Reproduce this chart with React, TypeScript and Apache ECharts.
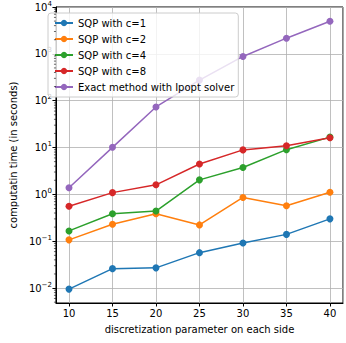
import React, { useEffect, useRef } from "react";
import * as echarts from "echarts";

const N_VALUES = [10, 15, 20, 25, 30, 35, 40];
const SQP_C1 = [0.0095, 0.026, 0.027, 0.057, 0.092, 0.14, 0.30];
const SQP_C2 = [0.107, 0.23, 0.385, 0.223, 0.86, 0.57, 1.11];
const SQP_C4 = [0.166, 0.385, 0.44, 2.04, 3.76, 9.0, 16.7];
const SQP_C8 = [0.556, 1.09, 1.6, 4.45, 8.9, 10.9, 16.2];
const IPOPT = [1.38, 10.1, 73.5, 275, 880, 2160, 4960];

const SERIES_NAMES = [
  "SQP with c=1",
  "SQP with c=2",
  "SQP with c=4",
  "SQP with c=8",
  "Exact method with Ipopt solver",
];
const COLORS = ["#1f77b4", "#ff7f0e", "#2ca02c", "#d62728", "#9467bd"];

const X_MIN = 8.5;
const X_MAX = 41.5;
const Y_MIN = 0.0048;
const Y_MAX = 10000;

const MINOR_TICKS: number[] = [];
for (let e = -3; e <= 3; e++) {
  for (let m = 2; m <= 9; m++) {
    const v = m * Math.pow(10, e);
    if (v > Y_MIN && v < Y_MAX) MINOR_TICKS.push(v);
  }
}

const FONT = "DejaVu Sans";

export default function App() {
  const ref = useRef<HTMLDivElement>(null);
  useEffect(() => {
    if (!ref.current) return;
    const chart = echarts.init(ref.current, undefined, { renderer: "svg" });
    const allData = [SQP_C1, SQP_C2, SQP_C4, SQP_C8, IPOPT];
    const lineSeries = allData.map((vals, i) => ({
      name: SERIES_NAMES[i],
      type: "line",
      data: N_VALUES.map((n, j) => [n, vals[j]]),
      symbol: "circle",
      symbolSize: 7,
      lineStyle: { width: 1.5, color: COLORS[i] },
      itemStyle: { color: COLORS[i] },
      z: 3,
    }));
    const option: any = {
      animation: false,
      textStyle: { fontFamily: FONT },
      grid: {
        left: 46,
        right: 3,
        top: 6,
        bottom: 40,
        show: true,
        borderColor: "#000",
        borderWidth: 1,
        backgroundColor: "transparent",
      },
      legend: {
        data: SERIES_NAMES,
        orient: "vertical",
        left: 48,
        top: 13,
        itemWidth: 18,
        itemHeight: 8,
        itemGap: 4,
        padding: [4, 4, 4, 6],
        backgroundColor: "rgba(255,255,255,0.8)",
        borderColor: "#cccccc",
        borderWidth: 1,
        borderRadius: 3,
        textStyle: { fontFamily: FONT, fontSize: 10, color: "#000", lineHeight: 12 },
      },
      xAxis: {
        type: "value",
        min: X_MIN,
        max: X_MAX,
        splitNumber: 7,
        name: "discretization parameter on each side",
        nameLocation: "middle",
        nameGap: 21,
        nameTextStyle: { fontFamily: FONT, fontSize: 10, color: "#000" },
        axisLine: { show: true, lineStyle: { color: "#000", width: 1 } },
        axisTick: { show: true, length: 3.5, lineStyle: { color: "#000" } },
        axisLabel: {
          fontFamily: FONT,
          fontSize: 10,
          color: "#000",
          margin: 5,
          showMinLabel: false,
          showMaxLabel: false,
          formatter: (v: number) => (Math.abs(v - Math.round(v)) < 1e-6 && v % 5 === 0 ? String(v) : ""),
        },
        splitLine: { show: true, lineStyle: { color: "#b0b0b0", width: 0.8 } },
      },
      yAxis: {
        type: "log",
        logBase: 10,
        min: Y_MIN,
        max: Y_MAX,
        name: "computatin time (in seconds)",
        nameLocation: "middle",
        nameGap: 27,
        nameTextStyle: { fontFamily: FONT, fontSize: 10, color: "#000" },
        axisLine: { show: true, lineStyle: { color: "#000", width: 1 } },
        axisTick: { show: true, length: 3.5, lineStyle: { color: "#000" } },
        axisLabel: {
          fontFamily: FONT,
          fontSize: 10,
          color: "#000",
          margin: 4,
          showMinLabel: false,
          formatter: (v: number) => {
            const lg = Math.log10(v);
            const e = Math.round(lg);
            if (Math.abs(lg - e) > 1e-6) return "";
            const es = e < 0 ? "\u2212" + Math.abs(e) : String(e);
            return "10{sup|" + es + "}";
          },
          rich: {
            sup: { fontSize: 7, fontFamily: FONT, color: "#000", padding: [0, 0, 7, 0] },
          },
        },
        splitLine: { show: true, lineStyle: { color: "#b0b0b0", width: 0.8 } },
      },
      series: [
        ...lineSeries,
        {
          type: "custom",
          silent: true,
          clip: false,
          z: 5,
          data: MINOR_TICKS.map((v) => [X_MIN, v]),
          renderItem: (params: any, api: any) => {
            const p = api.coord([api.value(0), api.value(1)]);
            return {
              type: "line",
              shape: { x1: p[0] - 2, y1: p[1], x2: p[0], y2: p[1] },
              style: { stroke: "#000", lineWidth: 0.6 },
            };
          },
        },
      ],
    };
    chart.setOption(option);
    return () => chart.dispose();
  }, []);
  return (
    <div
      ref={ref}
      style={{ position: "fixed", left: 0, top: 0, width: 346, height: 343, background: "#fff" }}
    />
  );
}
